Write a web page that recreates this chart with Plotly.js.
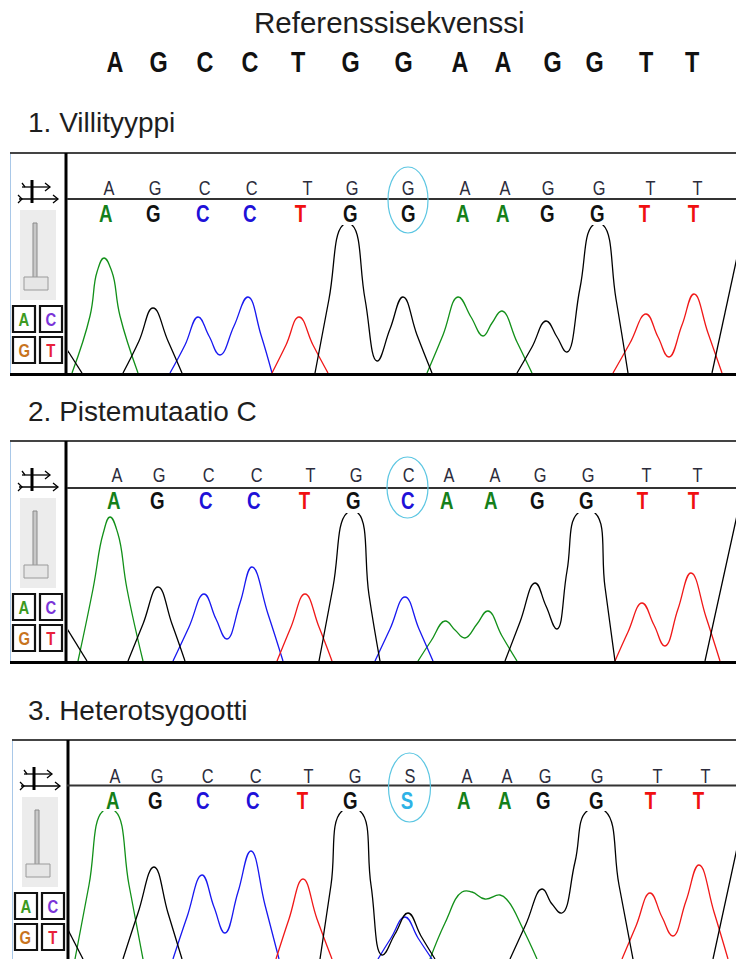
<!DOCTYPE html>
<html><head><meta charset="utf-8">
<script src="https://cdn.plot.ly/plotly-3.0.1.min.js"></script>
<style>html,body{margin:0;padding:0;background:#fff;overflow:hidden}#chart{width:736px;height:959px}</style>
</head><body><div id="chart"></div>
<script>
// ---------------- DATA ----------------
const refSequence = ['A','G','C','C','T','G','G','A','A','G','G','T','T'];
const panelTitles = ['1. Villityyppi','2. Pistemutaatio C','3. Heterotsygootti'];

// base calls (top row = original call, bottom row = edited call) and scan positions
const p1Calls = ['A','G','C','C','T','G','G','A','A','G','G','T','T','G'];
const p1TopPos = [109,155,204,251,307,352,408,465,505,548,599,650,697,741];
const p1BotPos = [105,153,202,249,300,350,408,462,502,547,597,644,693,739];
const p2Calls = ['A','G','C','C','T','G','C','A','A','G','G','T','T','G'];
const p2TopPos = [117,159,208,256,310,356,408,449,495,540,588,646,697,741];
const p2BotPos = [113,157,205,253,304,353,407,446,490,537,586,642,693,739];
const p3Calls = ['A','G','C','C','T','G','S','A','A','G','G','T','T'];
const p3TopPos = [115,157,207,255,308,355,410,467,507,545,597,657,705];
const p3BotPos = [112,155,202,252,302,350,407,463,504,543,596,650,698];

// chromatogram traces: scan position / signal height
const p1A_x = [72,90,97,104,112,120,138,null,427,443,458,471,483,492,502,517,532];
const p1A_y = [0,57,101,115,101,57,0,null,0,38,76,56,37,50,62,31,0];
const p1C_x = [170,185,198,209,220,234,248,261,272];
const p1C_y = [0,28,56,37,18,47,76,38,0];
const p1T_x = [272,286,299,313,328,null,613,630,646,658,669,682,694,708,722];
const p1T_y = [0,28,56,28,0,null,0,30,59,36,16,48,79,40,0];
const p1G_x = [66,82,null,123,139,153,168,182,null,315,329,343,352,365,377,390,403,417,432,null,517,532,546,557,567,580,593,603,616,628,null,712,736,744];
const p1G_y = [25,0,null,0,32,65,32,0,null,0,74,148,148,74,12,44,76,38,0,null,0,26,52,36,21,85,148,148,74,0,null,0,111,148];

const p2A_x = [78,93,103,110,118,127,143,null,418,431,445,455,465,477,488,502,517];
const p2A_y = [0,72,127,144,127,72,0,null,0,20,40,31,23,37,50,25,0];
const p2C_x = [173,189,204,216,227,240,252,268,283,null,375,390,405,419,433];
const p2C_y = [0,34,67,42,22,58,94,47,0,null,0,32,64,32,0];
const p2T_x = [277,291,305,319,332,null,615,628,642,654,665,678,691,706,720];
const p2T_y = [0,34,67,34,0,null,0,29,58,36,15,52,88,44,0];
const p2G_x = [66,87,null,128,143,158,172,185,null,319,333,347,358,369,380,null,505,520,535,546,557,567,578,595,605,615,null,705,736,740];
const p2G_y = [34,0,null,0,37,74,37,0,null,0,74,148,148,66,0,null,0,39,78,55,32,90,148,148,74,0,null,0,141,160];

const p3A_x = [75,89,103,115,129,143,null,430,445,462,472,485,500,508,523,537];
const p3A_y = [0,74,148,148,74,0,null,0,36,67,67,60,64,58,30,0];
const p3C_x = [173,187,202,214,225,238,251,265,279,null,378,391,405,418,432];
const p3C_y = [0,42,84,52,26,67,108,54,0,null,0,21,42,21,0];
const p3T_x = [276,289,303,317,332,null,622,636,650,662,673,686,699,714,728];
const p3T_y = [0,40,80,40,0,null,0,33,66,42,23,58,94,47,0];
const p3G_x = [67,83,null,123,138,154,168,182,null,320,331,342,360,371,382,395,408,421,435,null,510,526,542,552,562,575,587,605,619,633,null,713,736,745];
const p3G_y = [31,0,null,0,46,92,46,0,null,0,74,148,148,74,4,25,46,23,0,null,0,35,70,55,46,97,148,148,74,0,null,0,106,148];

// ---------------- STYLE / LAYOUT ----------------
const W = 736, H = 959;
const PX = x => x / W, PY = y => 1 - y / H;
const traceColor = {A:'#129019', C:'#1818f0', G:'#000000', T:'#f01818'};
const callColor = {A:'#14801a', C:'#2010d8', G:'#111111', T:'#f01010', S:'#2eb2e6'};
const SANS = 'Liberation Sans, Arial, sans-serif';
const narrowIdx = [];   // annotation indices rendered condensed

const panels = [
  {xa:'x', ya:'y', top:153, line:199, base:373, off:0, lab:123, topY:188, botY:213,
   calls:p1Calls, topPos:p1TopPos, botPos:p1BotPos, ell:[388,167,428,233],
   A:[p1A_x,p1A_y], C:[p1C_x,p1C_y], T:[p1T_x,p1T_y], G:[p1G_x,p1G_y]},
  {xa:'x2', ya:'y2', top:441, line:488, base:661, off:0, lab:411, topY:475, botY:500,
   calls:p2Calls, topPos:p2TopPos, botPos:p2BotPos, ell:[387,457,428,518],
   A:[p2A_x,p2A_y], C:[p2C_x,p2C_y], T:[p2T_x,p2T_y], G:[p2G_x,p2G_y]},
  {xa:'x3', ya:'y3', top:740, line:785.5, base:959, off:2, lab:710, topY:775, botY:800,
   calls:p3Calls, topPos:p3TopPos, botPos:p3BotPos, ell:[388.5,753,430.5,822],
   A:[p3A_x,p3A_y], C:[p3C_x,p3C_y], T:[p3T_x,p3T_y], G:[p3G_x,p3G_y]}
];

const traces = [];
const shapes = [];
const annotations = [];
const layout = {
  width: W, height: H, margin:{l:0,r:0,t:0,b:0,pad:0},
  paper_bgcolor:'#ffffff', plot_bgcolor:'rgba(0,0,0,0)', showlegend:false,
  shapes, annotations
};

function ln(x0,y0,x1,y1,color,width){shapes.push({type:'line',xref:'paper',yref:'paper',x0:PX(x0),y0:PY(y0),x1:PX(x1),y1:PY(y1),line:{color:color,width:width}});}
function rc(x0,y0,x1,y1,fill,lc,lw){shapes.push({type:'rect',xref:'paper',yref:'paper',x0:PX(x0),y0:PY(y0),x1:PX(x1),y1:PY(y1),fillcolor:fill,line:{color:lc,width:lw}});}
function pth(pts,color,width){let d='M'+pts.map(p=>PX(p[0]).toFixed(5)+','+PY(p[1]).toFixed(5)).join(' L');shapes.push({type:'path',xref:'paper',yref:'paper',path:d,line:{color:color,width:width}});}
function txt(x,y,t,size,color,family,xanchor,narrow){
  if(narrow) narrowIdx.push(annotations.length);
  annotations.push({xref:'paper',yref:'paper',x:PX(x),y:PY(y),text:t,showarrow:false,xanchor:xanchor||'center',yanchor:'middle',font:{size:size,color:color,family:family}});
}

// header
txt(389,23,'Referenssisekvenssi',29.5,'#1e1e1e',SANS);
const refX = [115,158,205,250,298,350,403,460,503,552,594,646,692];
refSequence.forEach((b,i)=>txt(refX[i],61,'<b>'+b+'</b>',30,'#111111',SANS,'center',true));

panels.forEach((p,pi)=>{
  const n = pi+1;
  const xk = pi===0?'xaxis':'xaxis'+n, yk = pi===0?'yaxis':'yaxis'+n;
  layout[xk] = {domain:[68/W,1], range:[68,736], visible:false, fixedrange:true, anchor:p.ya};
  layout[yk] = {domain:[Math.max(0,(H-p.base)/H), (H-p.base+148)/H], range:[0,148], visible:false, fixedrange:true, anchor:p.xa};
  ['A','C','T','G'].forEach(b=>{
    traces.push({type:'scatter',mode:'lines',x:p[b][0],y:p[b][1],xaxis:p.xa,yaxis:p.ya,
      line:{color:traceColor[b],width:1.3,shape:'spline',smoothing:1.3},connectgaps:false,hoverinfo:'skip'});
  });
  const T = p.top, o = p.off;
  txt(26,p.lab,panelTitles[pi],28,'#1e1e1e',SANS,'left');
  // frame
  ln(10.5+o,T,10.5+o,p.base+3,'#a9c8e8',1);
  ln(10+o,T,736,T,'#444444',2);
  // tool panel
  rc(20+o,T+57,56+o,T+147,'#ececec','#ececec',0);
  rc(33+o,T+70,37+o,T+135,'#c8c8c8','#8a8a8a',1);
  rc(24+o,T+124,48+o,T+137,'#e6e6e6','#9a9a9a',1);
  // icon
  ln(32+o,T+27,32+o,T+50,'#000',3);
  ln(22+o,T+34,50+o,T+34,'#000',1.3);
  pth([[45+o,T+30],[50+o,T+34],[45+o,T+38]],'#000',1.3);
  ln(19+o,T+46,58+o,T+46,'#000',1.3);
  pth([[53+o,T+42],[58+o,T+46],[53+o,T+50]],'#000',1.3);
  pth([[18+o,T+42],[22+o,T+46],[18+o,T+50]],'#000',1.3);
  pth([[22+o,T+30],[25+o,T+34]],'#000',1.3);
  // ACGT buttons
  const btn = [['A',13,153,'#3c9a22'],['C',40,153,'#7a34d8'],['G',13,184,'#c8741e'],['T',40,184,'#e8203a']];
  btn.forEach(bb=>{
    rc(bb[1]+o,T+bb[2],bb[1]+22+o,T+bb[2]+26,'#ffffff','#111111',2.2);
    txt(bb[1]+11+o,T+bb[2]+13.5,'<b>'+bb[0]+'</b>',19,bb[3],SANS,'center',true);
  });
  // divider, letter line, baseline
  ln(66+o,T,66+o,p.base+3,'#000',3);
  ln(67,p.line,736,p.line,'#333333',2);
  ln(10+o,p.base+1.5,736,p.base+1.5,'#000',3);
  shapes.push({type:'circle',xref:'paper',yref:'paper',x0:PX(p.ell[0]),x1:PX(p.ell[2]),y0:PY(p.ell[1]),y1:PY(p.ell[3]),line:{color:'#5cc6e2',width:1.2}});
  // base calls
  p.calls.forEach((b,i)=>{
    const partial = i===13;
    narrowIdx.push(annotations.length);
    annotations.push({xref:p.xa,yref:'paper',x:p.topPos[i],y:PY(p.topY),text:b,showarrow:false,xanchor:'center',yanchor:'middle',
      font:{size:21,color:partial?'#d09020':'#2c2c3c',family:SANS}});
    narrowIdx.push(annotations.length);
    annotations.push({xref:p.xa,yref:'paper',x:p.botPos[i],y:PY(p.botY),text:'<b>'+b+'</b>',showarrow:false,xanchor:'center',yanchor:'middle',
      font:{size:24,color:partial?'#3a2a10':callColor[b],family:SANS}});
  });
});

Plotly.newPlot('chart',traces,layout,{staticPlot:true,displayModeBar:false}).then(gd=>{
  // condense letter glyphs horizontally (narrow bold look of the original)
  narrowIdx.forEach(i=>{
    const t = gd.querySelector('.annotation[data-index="'+i+'"] text');
    if(!t) return;
    const bb = t.getBBox(); const cx = bb.x + bb.width/2;
    t.setAttribute('transform','translate('+cx+',0) scale(0.78,1) translate('+(-cx)+',0)');
  });
});
</script></body></html>
